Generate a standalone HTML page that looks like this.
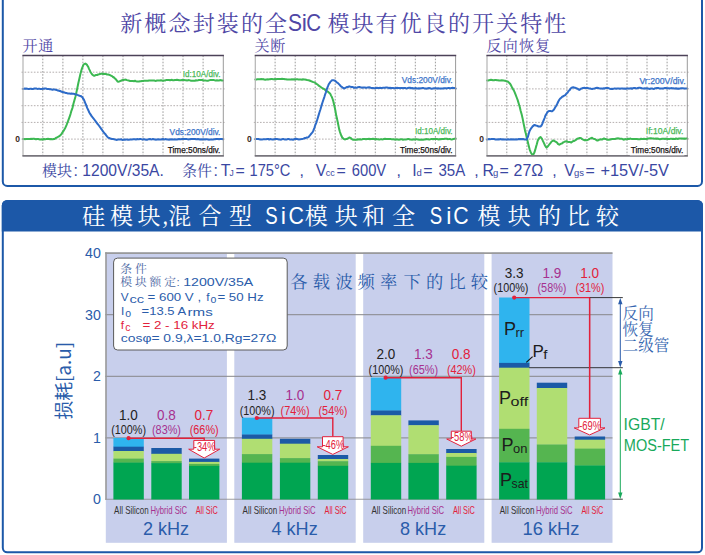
<!DOCTYPE html>
<html lang="zh-CN">
<head>
<meta charset="utf-8">
<title>SiC 模块开关特性与损耗比较</title>
<style>
html,body{margin:0;padding:0;background:#fff;}
body{width:705px;height:555px;overflow:hidden;}
svg{display:block;}
.sa{font-family:"Liberation Sans", "Noto Sans CJK SC", sans-serif;}
.cs{font-family:"Noto Serif CJK SC", "Liberation Serif", serif;}
.ch{font-family:"Noto Sans CJK SC", "Liberation Sans", sans-serif;}
text{white-space:pre;}
</style>
</head>
<body>
<svg width="705" height="555" viewBox="0 0 705 555">
<rect width="705" height="555" fill="#fff"/>
<rect x="2.8" y="-12" width="699.2" height="197.9" rx="4.5" fill="#fff" stroke="#1c58a8" stroke-width="2"/>
<text class="cs" x="120.2" y="30.8" font-size="22" letter-spacing="2.15" fill="#4f47a6">新概念封装的全</text>
<text class="sa" x="287.9" y="31.4" font-size="23.2" fill="#4f47a6" textLength="14" lengthAdjust="spacingAndGlyphs">S</text>
<text class="sa" x="301.7" y="31.4" font-size="23.2" fill="#4f47a6">i</text>
<text class="sa" x="306.2" y="31.4" font-size="23.2" fill="#4f47a6" textLength="14.8" lengthAdjust="spacingAndGlyphs">C</text>
<text class="cs" x="327.4" y="30.8" font-size="22" letter-spacing="2.1" fill="#4f47a6">模块有优良的开关特性</text>
<text class="cs" x="22.6" y="51.4" font-size="15" letter-spacing="0.7" fill="#4f47a6">开通</text>
<text class="cs" x="254.6" y="51.4" font-size="15" letter-spacing="0.7" fill="#4f47a6">关断</text>
<text class="cs" x="486.6" y="51.4" font-size="15" letter-spacing="1.2" fill="#4f47a6">反向恢复</text>
<rect x="23.0" y="55.5" width="200.3" height="100.3" fill="#fff"/>
<path d="M21.5 72.2H224.8M21.5 88.9H224.8M21.5 105.7H224.8M21.5 122.4H224.8M21.5 139.1H224.8" stroke="#b4aeae" stroke-width="1" stroke-dasharray="1.6 1.5" fill="none"/>
<path d="M42.8 55.5V155.8M62.9 55.5V155.8M82.9 55.5V155.8M102.9 55.5V155.8M123.0 55.5V155.8M143.0 55.5V155.8M163.0 55.5V155.8M183.0 55.5V155.8M203.1 55.5V155.8" stroke="#8e8e8e" stroke-width="0.9" stroke-dasharray="1.6 1.5" fill="none"/>
<polyline points="23.0,139.1 24.0,138.9 25.0,139.2 26.0,138.9 27.0,139.1 28.0,139.1 29.0,138.9 30.0,139.1 31.0,138.8 32.0,139.0 33.0,138.8 34.0,138.8 35.0,139.0 36.0,139.3 37.0,139.0 38.0,138.9 39.0,139.2 40.0,139.5 41.0,139.4 42.0,139.2 43.0,139.5 44.0,139.0 45.0,139.4 46.0,139.1 47.0,138.9 48.0,138.8 49.0,138.9 50.0,139.3 51.0,139.0 52.0,139.2 52.9,139.2 53.7,139.0 54.6,138.9 55.6,138.2 56.5,137.6 57.5,137.2 58.5,136.7 59.6,135.9 60.6,135.0 61.6,133.8 62.5,132.4 63.5,130.9 64.5,129.2 65.5,127.4 66.5,125.2 67.5,122.5 68.5,119.8 69.5,117.2 70.5,114.1 71.5,110.6 72.5,107.8 73.5,103.6 74.5,99.9 75.5,96.4 76.4,92.4 77.4,87.7 78.4,82.7 79.4,78.4 80.4,74.0 81.2,71.0 82.0,68.3 83.4,64.9 84.4,63.9 85.4,63.6 86.8,64.6 87.5,65.7 88.3,67.0 89.0,68.9 89.8,70.4 90.5,72.0 91.3,73.2 92.0,74.2 92.8,75.0 93.5,75.5 94.3,75.8 95.2,75.3 96.1,75.1 97.0,75.1 98.1,74.5 99.1,74.3 100.2,73.9 101.1,73.8 102.1,73.6 103.0,74.0 104.1,73.8 105.1,73.9 106.2,74.0 107.1,74.6 108.1,74.4 109.0,74.7 110.0,75.1 111.1,75.7 112.1,76.1 113.0,77.0 114.0,77.5 115.0,78.6 116.1,79.6 117.5,81.4 118.2,81.8 119.0,81.6 120.0,81.1 121.0,80.7 122.0,80.3 123.0,80.0 124.0,79.9 125.0,79.6 126.0,79.7 127.0,80.1 128.0,80.4 129.0,80.6 130.0,81.0 131.0,81.1 132.0,81.0 133.0,81.1 134.0,81.2 135.0,80.8 136.0,81.2 137.0,81.4 138.0,81.5 139.0,81.5 140.0,81.3 141.0,81.2 142.0,80.9 143.0,81.1 144.0,80.8 145.0,80.7 146.0,80.7 147.0,80.7 148.0,80.8 149.0,80.6 150.0,80.5 151.0,80.5 152.0,80.5 153.0,80.6 154.0,80.4 155.0,80.8 156.0,80.9 157.0,80.5 158.0,80.4 159.0,80.4 160.0,80.4 161.0,80.2 162.0,80.6 163.0,80.8 164.0,80.6 165.0,80.5 166.0,80.1 167.0,80.0 168.0,80.0 169.0,80.0 170.0,80.3 171.0,80.0 172.0,79.8 173.0,80.3 174.0,80.2 175.0,79.9 176.0,80.0 177.0,79.7 178.0,79.9 179.0,80.3 180.0,80.3 181.0,80.3 182.0,80.0 183.0,80.0 184.0,79.9 185.0,80.2 186.0,80.2 187.0,80.4 188.0,80.2 189.0,80.1 190.0,80.4 191.0,80.7 192.0,80.7 193.0,80.7 194.0,80.7 195.0,80.7 196.0,80.3 197.0,80.4 198.0,80.3 199.0,80.0 200.0,79.9 201.0,80.0 202.0,80.0 203.0,80.3 204.0,80.6 205.0,80.4 206.0,80.6 207.0,80.7 208.0,80.7 209.0,80.4 210.0,80.1 211.0,80.0 212.0,79.9 213.0,79.9 214.0,80.1 215.0,80.4 216.0,80.5 217.0,80.3 218.0,80.4 219.0,80.5 220.0,80.1 221.0,80.2 222.0,80.5 223.0,80.5" fill="none" stroke="#3cb852" stroke-width="2" stroke-linejoin="round" stroke-linecap="round"/>
<polyline points="23.0,88.9 24.0,88.8 25.0,88.5 26.0,88.8 27.0,88.6 28.0,88.9 29.0,89.1 30.0,88.8 31.0,88.7 32.0,89.0 33.0,89.0 34.0,88.6 35.0,88.4 36.0,88.4 37.0,88.8 38.0,88.9 39.0,88.6 40.0,88.9 41.0,89.1 41.9,89.0 42.9,88.8 43.9,88.8 44.8,88.5 45.8,88.4 46.8,88.9 47.7,88.9 48.7,88.9 49.7,89.2 50.7,89.2 51.7,89.5 52.6,89.7 53.6,89.4 54.6,89.4 55.6,89.7 56.5,89.9 57.5,90.4 58.5,90.6 59.5,91.0 60.5,91.1 61.6,91.8 62.6,92.0 63.6,92.2 64.5,92.5 65.5,92.9 66.5,93.0 67.5,93.4 68.5,93.4 69.5,93.5 70.5,93.7 71.5,93.5 72.5,93.8 73.5,93.8 74.5,93.9 75.5,94.5 76.5,94.5 77.4,94.9 78.4,95.3 79.5,95.7 80.6,95.9 81.5,96.6 82.4,97.2 83.2,98.7 83.9,99.6 84.7,101.6 85.4,103.3 86.3,105.5 87.3,108.1 88.3,110.2 89.3,112.5 90.5,114.4 91.8,116.4 93.0,117.8 94.3,119.5 95.3,120.8 96.2,122.1 97.2,123.5 98.2,124.7 99.2,126.0 100.2,127.3 101.2,128.9 102.2,130.2 103.2,131.7 104.2,133.0 105.2,133.9 106.2,135.3 107.2,136.6 108.2,137.7 109.2,137.9 110.1,138.3 111.0,138.8 112.0,139.0 113.0,139.1 114.1,139.2 115.1,139.5 116.1,139.7 117.0,139.9 118.0,139.5 119.0,139.6 120.0,139.6 121.0,139.3 122.0,139.7 123.0,139.9 124.0,139.5 125.0,139.8 126.0,139.5 127.0,139.5 128.0,139.8 129.0,139.8 130.0,139.4 131.0,139.4 132.0,139.4 133.0,139.3 134.0,139.2 135.0,139.2 136.0,139.5 137.0,139.1 138.0,139.3 139.0,139.3 140.0,139.1 141.0,139.1 142.0,139.4 143.0,139.4 144.0,139.1 145.0,139.6 146.0,139.7 147.0,139.8 148.0,139.3 149.0,139.2 150.0,139.0 151.0,139.4 152.0,139.3 153.0,139.1 154.0,139.2 155.0,139.6 156.0,139.7 157.0,139.4 158.0,139.2 159.0,139.6 160.0,139.5 161.0,139.6 162.0,139.2 163.0,139.0 164.0,139.4 165.0,139.3 166.0,139.1 167.0,139.5 168.0,139.6 169.0,139.7 170.0,139.3 171.0,139.6 172.0,139.2 173.0,139.5 174.0,139.4 175.0,139.3 176.0,139.4 177.0,139.6 178.0,139.3 179.0,139.1 180.0,139.3 181.0,139.2 182.0,139.0 183.0,139.0 184.0,138.9 185.0,139.0 186.0,139.0 187.0,139.1 188.0,139.4 189.0,139.2 190.0,139.3 191.0,139.1 192.0,139.1 193.0,138.9 194.0,139.0 195.0,138.9 196.0,139.3 197.0,139.3 198.0,139.1 199.0,139.2 200.0,139.5 201.0,139.2 202.0,139.4 203.0,139.3 204.0,139.3 205.0,139.5 206.0,139.3 207.0,139.3 208.0,139.4 209.0,139.7 210.0,139.4 211.0,139.5 212.0,139.5 213.0,139.5 214.0,139.3 215.0,139.2 216.0,139.0 217.0,138.9 218.0,138.9 219.0,139.3 220.0,139.1 221.0,139.0 222.0,138.9 223.0,139.3" fill="none" stroke="#2d6bc8" stroke-width="2" stroke-linejoin="round" stroke-linecap="round"/>
<path d="M23.0 55.5V155.8" stroke="#b4b4b4" stroke-width="1.2"/>
<path d="M223.3 55.5V155.8" stroke="#9a9a9a" stroke-width="1"/>
<path d="M22.4 55.5H223.9" stroke="#4c4258" stroke-width="1.3"/>
<path d="M22.4 155.8H223.9" stroke="#77757c" stroke-width="1.8"/>
<rect x="181.8" y="69.8" width="39.6" height="8.4" fill="#fff"/>
<text class="sa" x="182.8" y="76.6" font-size="8.3" fill="#4cb85a" stroke="#4cb85a" stroke-width="0.25" textLength="37.6" lengthAdjust="spacingAndGlyphs">Id:10A/div.</text>
<rect x="168.6" y="127.7" width="52.8" height="8.4" fill="#fff"/>
<text class="sa" x="169.6" y="134.5" font-size="8.3" fill="#3f76c9" stroke="#3f76c9" stroke-width="0.25" textLength="50.8" lengthAdjust="spacingAndGlyphs">Vds:200V/div.</text>
<rect x="166.8" y="145.4" width="54.6" height="9.6" fill="#fff"/>
<text class="sa" x="167.8" y="153.0" font-size="8.3" fill="#1b1515" stroke="#1b1515" stroke-width="0.25" textLength="52.6" lengthAdjust="spacingAndGlyphs">Time:50ns/div.</text>
<text class="sa" x="17.5" y="142.3" font-size="8.5" text-anchor="middle" fill="#3a2a22" font-weight="bold">0</text>
<rect x="255.3" y="55.5" width="200.3" height="100.3" fill="#fff"/>
<path d="M253.8 72.2H457.1M253.8 88.9H457.1M253.8 105.7H457.1M253.8 122.4H457.1M253.8 139.1H457.1" stroke="#b4aeae" stroke-width="1" stroke-dasharray="1.6 1.5" fill="none"/>
<path d="M275.1 55.5V155.8M295.2 55.5V155.8M315.2 55.5V155.8M335.2 55.5V155.8M355.3 55.5V155.8M375.3 55.5V155.8M395.3 55.5V155.8M415.3 55.5V155.8M435.4 55.5V155.8" stroke="#8e8e8e" stroke-width="0.9" stroke-dasharray="1.6 1.5" fill="none"/>
<polyline points="255.3,79.6 256.3,79.6 257.3,79.3 258.3,79.2 259.3,79.2 260.2,79.3 261.2,79.1 262.2,79.2 263.2,79.1 264.2,79.6 265.2,79.8 266.2,79.6 267.2,79.3 268.1,79.6 269.1,79.3 270.1,79.2 271.1,79.0 272.1,79.1 273.1,79.2 274.1,79.3 275.1,79.1 276.0,79.2 277.0,79.0 278.0,79.0 279.0,78.9 280.0,79.1 281.0,78.9 282.0,78.8 283.0,79.0 284.0,79.0 285.0,79.2 286.0,79.3 287.0,79.5 288.0,79.5 289.0,79.5 290.0,79.6 291.0,79.4 292.0,79.2 293.0,79.6 294.0,79.2 295.0,79.4 296.0,79.4 297.0,79.1 298.0,79.4 299.0,79.6 300.0,79.5 301.0,79.6 302.0,79.7 303.0,79.3 304.0,79.4 305.0,79.5 306.0,79.7 307.2,80.0 308.5,80.2 309.5,80.5 310.5,81.0 311.5,81.3 312.5,81.8 313.4,82.1 314.4,82.4 315.4,83.0 316.4,83.8 317.4,84.3 318.4,85.4 319.4,86.1 320.4,86.8 321.4,87.5 322.4,88.2 323.4,88.8 324.4,89.1 325.3,90.1 326.3,90.9 327.4,91.4 328.5,92.1 329.4,93.1 330.3,93.8 331.1,95.6 331.8,96.9 332.6,99.0 333.3,101.3 334.1,104.8 334.8,107.8 335.6,111.8 336.3,115.8 337.1,119.1 337.8,122.5 339.2,129.4 339.9,131.8 340.7,134.2 341.4,135.8 342.2,137.5 343.5,138.8 344.8,139.4 346.2,139.1 346.9,139.0 347.7,138.4 348.4,138.2 349.2,137.6 349.9,137.6 350.7,137.9 351.5,138.7 352.4,139.4 353.2,139.8 354.1,139.8 355.1,139.8 356.0,139.7 357.0,139.7 358.0,139.3 359.0,139.6 360.0,139.2 361.0,139.5 362.0,139.5 363.0,138.9 364.0,138.9 365.0,139.1 366.0,139.3 367.0,139.1 368.0,138.9 369.0,138.8 370.0,139.2 371.0,138.9 372.0,139.0 373.0,138.8 374.0,139.0 375.0,139.4 376.0,139.0 377.0,139.3 378.0,139.2 379.0,139.4 380.0,139.4 381.0,139.1 382.0,139.4 383.0,139.3 384.0,139.0 385.0,138.8 386.0,139.0 387.0,139.1 388.0,139.1 389.0,139.0 390.0,139.1 391.0,139.1 392.0,139.4 393.0,139.1 394.0,139.4 395.0,139.6 396.0,139.2 397.0,139.6 398.0,139.6 399.0,139.8 400.0,139.4 401.0,139.3 402.0,139.3 403.0,139.7 404.0,139.6 405.0,139.4 406.0,139.4 407.0,139.3 408.0,139.1 409.0,139.1 410.0,139.5 411.0,139.4 412.0,139.7 413.0,139.4 414.0,139.3 415.0,139.4 416.0,139.2 417.0,139.2 418.0,139.6 419.0,139.7 420.0,139.7 421.0,139.6 422.0,139.7 423.0,139.8 424.0,139.5 425.0,139.5 426.0,139.1 427.0,139.3 428.0,139.2 429.0,139.4 430.0,139.4 431.0,139.1 432.0,138.9 433.0,139.3 433.9,139.0 434.9,139.1 435.9,139.0 436.9,139.0 437.9,139.2 438.9,139.5 439.8,139.1 440.8,139.2 441.8,139.0 442.8,139.1 443.8,139.0 444.8,138.8 445.8,138.8 446.7,138.7 447.7,139.2 448.7,139.1 449.7,138.9 450.7,139.2 451.7,139.4 452.6,139.2 453.6,138.9 454.6,138.7 455.6,138.6" fill="none" stroke="#3cb852" stroke-width="2" stroke-linejoin="round" stroke-linecap="round"/>
<polyline points="255.3,139.2 256.3,139.0 257.3,139.0 258.3,139.0 259.3,139.2 260.3,139.5 261.2,139.6 262.2,139.4 263.2,139.3 264.2,139.3 265.2,139.2 266.2,139.2 267.2,139.0 268.2,139.0 269.2,139.5 270.2,139.1 271.2,139.2 272.2,139.4 273.1,139.6 274.1,139.2 275.1,139.1 276.1,139.1 277.1,139.1 278.1,139.2 279.1,139.5 280.1,139.6 281.1,139.7 282.1,139.2 283.1,138.9 284.1,139.3 285.0,139.5 286.0,139.4 287.0,139.4 288.0,139.0 289.0,139.1 290.0,139.5 291.0,139.6 292.0,139.6 293.0,139.7 294.0,139.3 295.0,139.0 296.0,138.8 297.0,139.0 298.0,139.2 299.0,139.4 299.9,139.3 300.8,139.2 301.6,139.1 302.5,138.9 303.5,138.6 304.5,138.1 305.5,138.2 306.5,137.6 307.5,137.5 308.5,137.1 309.5,135.9 310.5,134.7 311.5,133.4 312.5,132.3 313.4,130.3 314.4,127.8 315.4,124.8 316.4,122.3 317.4,119.2 318.4,115.9 319.4,112.5 320.4,109.5 321.4,105.9 322.4,102.7 323.4,99.7 324.4,96.8 325.1,94.5 325.9,92.3 327.3,87.8 328.1,85.9 328.8,84.1 329.6,83.2 330.3,81.9 331.1,81.1 331.8,80.3 332.6,80.3 333.3,80.2 334.1,80.4 334.8,80.4 335.6,81.2 336.3,82.0 337.2,82.6 338.2,83.3 339.2,84.4 340.2,85.5 341.2,86.6 342.2,87.2 343.2,88.0 344.2,88.5 345.4,87.8 346.7,87.1 347.9,87.0 349.2,86.3 350.4,86.8 351.6,86.9 352.9,87.1 354.1,87.8 355.1,87.5 356.0,87.7 357.0,87.5 358.0,87.2 359.0,87.1 360.0,87.1 361.0,87.4 362.0,87.8 363.0,87.4 364.0,87.5 365.0,87.5 366.0,87.9 367.0,87.6 368.0,87.4 369.0,87.3 370.0,87.5 371.0,87.9 372.0,88.1 373.0,88.1 374.0,88.3 375.0,88.3 376.0,88.0 377.0,87.7 378.0,88.1 379.0,88.1 380.0,87.7 381.0,87.9 382.0,87.9 383.0,87.8 384.0,87.8 385.0,87.7 386.0,87.5 387.0,87.6 388.0,87.7 389.0,88.2 390.0,87.8 391.0,88.2 392.0,87.9 393.0,87.9 394.0,88.2 395.0,88.3 396.0,88.1 397.0,87.8 398.0,87.9 399.0,87.9 400.0,88.3 401.0,88.0 402.0,88.0 403.0,88.3 404.0,87.9 405.0,88.0 406.0,88.3 407.0,88.4 408.0,88.0 409.0,87.8 410.0,87.7 411.0,88.3 412.0,88.1 413.0,88.3 414.0,88.5 415.0,88.3 416.0,88.1 417.0,88.5 418.0,88.5 419.0,88.2 420.0,88.4 421.0,88.2 422.0,88.1 423.0,87.9 424.0,88.3 425.0,88.6 426.0,88.5 427.0,88.7 428.0,88.2 429.0,88.1 430.0,88.2 431.0,88.5 432.0,88.7 433.0,88.4 434.0,88.2 435.0,88.2 436.0,88.3 437.0,88.6 438.0,88.2 439.0,88.5 440.0,88.5 441.0,88.6 441.9,88.6 442.9,88.5 443.9,88.3 444.9,88.2 445.9,88.2 446.8,88.4 447.8,88.1 448.8,88.0 449.8,88.3 450.7,88.2 451.7,88.0 452.7,87.8 453.7,88.1 454.6,88.1 455.6,88.5" fill="none" stroke="#2d6bc8" stroke-width="2" stroke-linejoin="round" stroke-linecap="round"/>
<path d="M255.3 55.5V155.8" stroke="#b4b4b4" stroke-width="1.2"/>
<path d="M455.6 55.5V155.8" stroke="#9a9a9a" stroke-width="1"/>
<path d="M254.7 55.5H456.2" stroke="#4c4258" stroke-width="1.3"/>
<path d="M254.7 155.8H456.2" stroke="#77757c" stroke-width="1.8"/>
<rect x="400.8" y="76.1" width="52.8" height="8.4" fill="#fff"/>
<text class="sa" x="401.8" y="82.9" font-size="8.3" fill="#3f76c9" stroke="#3f76c9" stroke-width="0.25" textLength="50.8" lengthAdjust="spacingAndGlyphs">Vds:200V/div.</text>
<rect x="414.0" y="126.8" width="39.6" height="8.4" fill="#fff"/>
<text class="sa" x="415.0" y="133.6" font-size="8.3" fill="#4cb85a" stroke="#4cb85a" stroke-width="0.25" textLength="37.6" lengthAdjust="spacingAndGlyphs">Id:10A/div.</text>
<rect x="399.0" y="145.0" width="54.6" height="9.6" fill="#fff"/>
<text class="sa" x="400.0" y="152.6" font-size="8.3" fill="#1b1515" stroke="#1b1515" stroke-width="0.25" textLength="52.6" lengthAdjust="spacingAndGlyphs">Time:50ns/div.</text>
<text class="sa" x="249.3" y="142.3" font-size="8.5" text-anchor="middle" fill="#3a2a22" font-weight="bold">0</text>
<rect x="487.0" y="55.5" width="200.3" height="100.3" fill="#fff"/>
<path d="M485.5 72.2H688.8M485.5 88.9H688.8M485.5 105.7H688.8M485.5 122.4H688.8M485.5 139.1H688.8" stroke="#b4aeae" stroke-width="1" stroke-dasharray="1.6 1.5" fill="none"/>
<path d="M506.8 55.5V155.8M526.9 55.5V155.8M546.9 55.5V155.8M566.9 55.5V155.8M586.9 55.5V155.8M607.0 55.5V155.8M627.0 55.5V155.8M647.0 55.5V155.8M667.1 55.5V155.8" stroke="#8e8e8e" stroke-width="0.9" stroke-dasharray="1.6 1.5" fill="none"/>
<polyline points="487.0,80.4 488.0,80.6 489.0,80.2 490.0,80.0 491.0,79.8 492.0,80.0 493.0,80.3 494.0,80.2 495.0,80.0 496.0,80.1 497.0,80.2 498.0,80.3 499.0,80.5 499.9,80.6 500.9,80.6 501.8,80.2 502.8,80.6 503.7,80.5 504.6,80.7 505.5,80.8 506.6,81.4 507.8,81.6 508.8,82.5 509.8,83.4 510.8,84.9 511.7,86.8 512.7,88.6 513.7,90.2 514.7,92.4 515.7,94.9 516.7,97.5 517.7,100.1 518.7,103.5 519.7,106.7 520.7,110.9 521.7,114.5 522.7,118.9 523.6,123.6 524.4,127.2 525.1,130.9 525.9,133.8 526.6,137.1 527.4,140.1 528.1,143.2 528.9,146.5 529.6,149.3 530.4,151.4 531.1,153.0 531.9,154.1 532.6,154.9 533.6,154.1 534.5,152.3 535.2,149.9 536.0,146.9 536.8,144.2 537.5,141.4 538.2,139.7 539.0,138.2 539.8,137.5 540.5,137.0 541.2,137.8 542.0,138.9 542.8,140.7 543.5,142.1 544.2,143.7 545.0,145.5 545.8,146.8 546.5,147.6 547.2,147.0 548.0,146.3 549.4,144.3 550.4,143.2 551.4,141.7 552.4,141.0 553.4,140.5 554.2,140.9 555.0,141.3 556.4,142.1 557.1,142.7 557.9,143.8 559.3,144.7 560.3,144.1 561.3,143.6 562.3,143.3 563.3,142.3 564.3,141.9 565.3,141.4 566.3,141.3 567.3,141.5 568.3,142.1 569.3,142.1 570.3,142.1 571.3,142.6 572.2,141.8 573.2,141.1 574.2,141.0 575.2,140.3 576.2,139.7 577.2,138.8 578.2,138.6 579.2,138.0 580.2,138.1 581.2,138.3 582.2,139.1 583.2,139.7 584.2,140.2 585.1,140.1 586.1,140.3 587.1,140.2 588.4,139.6 589.6,138.8 590.9,138.2 592.1,137.8 593.3,138.7 594.5,138.9 595.8,139.6 597.0,140.5 598.0,140.4 599.0,139.8 600.0,139.3 601.0,139.5 602.0,139.5 603.0,139.0 604.0,138.4 605.0,139.0 606.0,139.1 607.0,139.6 608.0,139.8 609.0,139.8 610.0,139.3 611.0,139.4 612.0,139.0 613.0,138.9 614.0,139.1 615.0,139.1 616.0,138.6 617.0,138.4 618.0,138.3 619.0,138.6 620.0,138.7 621.0,138.7 622.0,138.8 623.0,139.3 624.0,139.7 625.0,139.1 626.0,139.2 627.0,139.2 628.0,138.8 629.0,139.0 630.0,138.6 631.0,138.8 632.0,138.9 633.0,139.0 634.0,138.9 635.0,138.9 636.0,139.1 637.0,139.0 638.0,139.2 639.0,139.2 640.0,139.2 641.0,138.8 642.0,139.0 643.0,139.0 644.0,138.8 645.0,139.0 646.0,139.1 647.0,138.9 648.0,138.5 649.0,138.6 650.0,138.3 651.0,138.3 652.0,138.5 653.0,138.4 654.0,138.6 655.0,138.7 656.0,138.5 657.0,138.8 658.0,138.6 659.0,139.0 660.0,139.2 661.0,139.1 662.0,138.7 663.0,138.8 664.0,138.7 665.0,139.0 666.0,138.6 667.0,138.9 668.0,139.1 669.0,139.0 670.0,138.9 671.0,138.6 672.0,138.9 673.0,138.7 674.0,138.9 675.0,139.0 676.0,138.5 677.0,138.7 678.0,138.9 679.0,138.4 680.0,138.4 681.0,138.6 682.1,138.4 683.1,138.8 684.2,138.5 685.2,138.8 686.3,138.5 687.3,138.6" fill="none" stroke="#3cb852" stroke-width="2" stroke-linejoin="round" stroke-linecap="round"/>
<polyline points="487.0,139.6 488.0,139.2 489.0,139.1 490.0,139.2 491.0,139.1 492.0,138.9 493.0,138.9 494.0,138.9 495.0,139.4 496.0,139.5 497.0,139.6 498.0,139.2 499.0,139.5 500.0,139.1 501.0,139.2 502.0,139.4 503.0,139.2 504.0,139.5 505.0,139.4 506.0,139.4 507.0,139.6 508.0,139.2 509.0,139.6 510.0,139.5 511.0,139.3 512.0,139.5 513.0,139.2 514.0,139.6 515.0,139.4 516.0,139.2 517.0,139.4 518.0,139.3 519.0,139.0 520.0,139.3 521.0,139.0 522.0,139.3 522.9,139.1 523.8,139.3 524.8,139.6 525.7,139.5 526.6,139.5 528.0,136.5 528.8,133.6 529.6,130.9 530.4,129.5 531.1,128.4 531.9,127.4 532.6,126.4 533.6,125.6 534.5,124.9 535.2,125.1 536.0,125.6 536.8,125.7 537.5,125.9 538.2,126.4 539.0,126.5 539.8,126.6 540.5,126.5 541.5,125.5 542.5,123.4 543.2,121.3 544.0,119.5 544.8,117.5 545.5,115.3 546.2,114.4 547.0,112.9 548.4,111.2 549.4,110.9 550.4,110.9 551.4,111.2 552.4,111.2 553.2,110.3 554.0,109.5 555.4,107.1 556.4,105.4 557.4,103.5 558.3,101.5 559.3,99.7 560.0,98.7 560.8,98.1 561.5,97.5 562.3,96.6 563.0,96.5 563.8,95.8 564.5,95.5 565.3,95.1 566.0,94.2 566.8,93.2 567.5,92.7 568.3,91.4 569.0,90.6 569.8,89.9 570.5,88.8 571.3,87.9 572.3,87.5 573.2,87.3 574.0,87.5 574.7,87.8 575.5,87.8 576.2,88.1 577.0,88.5 577.7,88.7 578.5,89.5 579.2,89.9 580.2,89.4 581.2,88.5 582.2,88.3 583.2,87.9 584.2,87.8 585.1,88.0 586.1,88.0 587.1,87.9 588.1,88.1 589.1,88.4 590.1,88.5 591.1,88.8 592.1,88.9 593.0,88.7 594.0,88.6 595.0,88.4 596.0,87.9 597.0,87.7 598.0,87.9 599.0,88.3 600.0,88.4 601.0,88.4 602.0,88.5 603.0,88.7 604.0,88.2 605.0,88.4 606.0,87.9 607.0,88.0 608.0,88.0 609.0,88.4 610.0,88.8 611.0,88.9 612.0,88.7 613.0,88.9 614.0,88.6 615.0,88.4 616.0,88.7 617.0,88.6 618.0,88.6 619.0,88.5 620.0,88.7 621.0,88.5 622.0,88.6 623.0,88.6 624.0,88.8 625.0,88.6 626.0,88.7 627.0,88.6 628.0,88.5 629.0,88.4 630.0,88.6 631.0,88.3 632.0,88.7 633.0,88.3 634.0,88.1 635.0,88.0 636.0,88.4 637.0,88.3 638.0,88.0 639.0,87.8 640.0,87.7 641.0,88.1 642.0,88.3 643.0,88.4 644.0,88.5 645.0,88.2 646.0,88.4 647.0,88.3 648.0,88.6 649.0,88.7 650.0,88.9 651.0,88.4 652.0,88.6 653.0,88.8 654.0,88.9 655.0,88.3 656.0,88.2 657.0,88.0 658.0,87.9 659.0,88.3 660.0,88.5 661.0,88.5 662.0,88.6 663.0,88.6 664.0,88.3 665.0,88.1 666.0,88.0 667.0,88.4 668.0,88.3 669.0,88.3 670.0,88.4 671.0,88.1 672.0,88.2 673.0,88.2 674.0,88.5 675.0,88.4 676.0,88.3 677.0,88.7 678.0,88.5 679.0,88.7 680.0,88.6 681.0,88.2 682.1,88.3 683.1,88.3 684.2,88.6 685.2,88.4 686.3,88.6 687.3,88.6" fill="none" stroke="#2d6bc8" stroke-width="2" stroke-linejoin="round" stroke-linecap="round"/>
<path d="M487.0 55.5V155.8" stroke="#b4b4b4" stroke-width="1.2"/>
<path d="M687.3 55.5V155.8" stroke="#9a9a9a" stroke-width="1"/>
<path d="M486.4 55.5H687.9" stroke="#4c4258" stroke-width="1.3"/>
<path d="M486.4 155.8H687.9" stroke="#77757c" stroke-width="1.8"/>
<rect x="638.4" y="76.7" width="48.2" height="8.4" fill="#fff"/>
<text class="sa" x="639.4" y="83.5" font-size="8.3" fill="#3f76c9" stroke="#3f76c9" stroke-width="0.25" textLength="46.2" lengthAdjust="spacingAndGlyphs">Vr:200V/div.</text>
<rect x="644.8" y="127.6" width="39.6" height="8.4" fill="#fff"/>
<text class="sa" x="645.8" y="134.4" font-size="8.3" fill="#4cb85a" stroke="#4cb85a" stroke-width="0.25" textLength="37.6" lengthAdjust="spacingAndGlyphs">If:10A/div.</text>
<rect x="629.8" y="145.8" width="54.6" height="9.6" fill="#fff"/>
<text class="sa" x="630.8" y="153.4" font-size="8.3" fill="#1b1515" stroke="#1b1515" stroke-width="0.25" textLength="52.6" lengthAdjust="spacingAndGlyphs">Time:50ns/div.</text>
<text class="sa" x="481.5" y="142.3" font-size="8.5" text-anchor="middle" fill="#3a2a22" font-weight="bold">0</text>
<text class="cs" x="42.0" y="176.0" font-size="15.0" fill="#3a47a2">模块</text>
<text class="sa" x="73.6" y="175.9" font-size="15.9" fill="#3a47a2">:</text>
<text class="sa" x="82.3" y="175.9" font-size="15.9" fill="#3a47a2" textLength="81.5" lengthAdjust="spacingAndGlyphs">1200V/35A.</text>
<text class="cs" x="182.0" y="176.0" font-size="15.0" fill="#3a47a2">条件</text>
<text class="sa" x="213.6" y="175.9" font-size="15.9" fill="#3a47a2">:</text>
<text class="sa" x="220.8" y="175.9" font-size="15.9" fill="#3a47a2">T</text>
<text class="sa" x="229.6" y="175.9" font-size="8.5" fill="#3a47a2">J</text>
<text class="sa" x="235.6" y="175.9" font-size="15.9" fill="#3a47a2">=</text>
<text class="sa" x="249.6" y="175.9" font-size="15.9" fill="#3a47a2" textLength="40.8" lengthAdjust="spacingAndGlyphs">175°C</text>
<text class="sa" x="299.6" y="175.9" font-size="15.9" fill="#3a47a2">,</text>
<text class="sa" x="315.8" y="175.9" font-size="15.9" fill="#3a47a2">V</text>
<text class="sa" x="325.8" y="175.9" font-size="9.0" fill="#3a47a2">cc</text>
<text class="sa" x="336.4" y="175.9" font-size="15.9" fill="#3a47a2">=</text>
<text class="sa" x="351.8" y="175.9" font-size="15.9" fill="#3a47a2" textLength="34.4" lengthAdjust="spacingAndGlyphs">600V</text>
<text class="sa" x="396.4" y="175.9" font-size="15.9" fill="#3a47a2">,</text>
<text class="sa" x="412.2" y="175.9" font-size="15.9" fill="#3a47a2">I</text>
<text class="sa" x="416.6" y="175.9" font-size="9.5" fill="#3a47a2">d</text>
<text class="sa" x="423.2" y="175.9" font-size="15.9" fill="#3a47a2">=</text>
<text class="sa" x="438.4" y="175.9" font-size="15.9" fill="#3a47a2" textLength="26.8" lengthAdjust="spacingAndGlyphs">35A</text>
<text class="sa" x="474.2" y="175.9" font-size="15.9" fill="#3a47a2">,</text>
<text class="sa" x="482.4" y="175.9" font-size="15.9" fill="#3a47a2">R</text>
<text class="sa" x="493.0" y="175.9" font-size="9.5" fill="#3a47a2">g</text>
<text class="sa" x="499.4" y="175.9" font-size="15.9" fill="#3a47a2">=</text>
<text class="sa" x="513.6" y="175.9" font-size="15.9" fill="#3a47a2" textLength="29.6" lengthAdjust="spacingAndGlyphs">27Ω</text>
<text class="sa" x="552.2" y="175.9" font-size="15.9" fill="#3a47a2">,</text>
<text class="sa" x="564.2" y="175.9" font-size="15.9" fill="#3a47a2">V</text>
<text class="sa" x="574.0" y="175.9" font-size="9.5" fill="#3a47a2">gs</text>
<text class="sa" x="585.4" y="175.9" font-size="15.9" fill="#3a47a2">=</text>
<text class="sa" x="600.4" y="175.9" font-size="15.9" fill="#3a47a2" textLength="68.6" lengthAdjust="spacingAndGlyphs">+15V/-5V</text>
<rect x="2.8" y="201" width="699.2" height="351.3" rx="4.5" fill="#fff" stroke="#1c58a8" stroke-width="2"/>
<path d="M1.8 231.4V205.5a5.5 5.5 0 0 1 5.5-5.5H697.5a5.5 5.5 0 0 1 5.5 5.5V231.4z" fill="#1c58a8"/>
<text class="cs" x="81.9" y="224.4" font-size="23" fill="#fff">硅</text>
<text class="cs" x="110.1" y="224.4" font-size="23" fill="#fff">模</text>
<text class="cs" x="137.4" y="224.4" font-size="23" fill="#fff">块</text>
<text class="cs" x="161.6" y="224.4" font-size="23" fill="#fff">,</text>
<text class="cs" x="168.2" y="224.4" font-size="23" fill="#fff">混</text>
<text class="cs" x="198.6" y="224.4" font-size="23" fill="#fff">合</text>
<text class="cs" x="229.0" y="224.4" font-size="23" fill="#fff">型</text>
<text class="sa" x="265.3" y="224.2" font-size="23.2" fill="#fff" textLength="12.4" lengthAdjust="spacingAndGlyphs">S</text>
<text class="sa" x="280.7" y="224.2" font-size="23.2" fill="#fff" textLength="5.2" lengthAdjust="spacingAndGlyphs">i</text>
<text class="sa" x="288.6" y="224.2" font-size="23.2" fill="#fff" textLength="15.4" lengthAdjust="spacingAndGlyphs">C</text>
<text class="cs" x="304.8" y="224.4" font-size="23" fill="#fff">模</text>
<text class="cs" x="334.7" y="224.4" font-size="23" fill="#fff">块</text>
<text class="cs" x="361.9" y="224.4" font-size="23" fill="#fff">和</text>
<text class="cs" x="392.0" y="224.4" font-size="23" fill="#fff">全</text>
<text class="sa" x="429.7" y="224.2" font-size="23.2" fill="#fff" textLength="12.4" lengthAdjust="spacingAndGlyphs">S</text>
<text class="sa" x="446.3" y="224.2" font-size="23.2" fill="#fff" textLength="5.2" lengthAdjust="spacingAndGlyphs">i</text>
<text class="sa" x="453.3" y="224.2" font-size="23.2" fill="#fff" textLength="15.4" lengthAdjust="spacingAndGlyphs">C</text>
<text class="cs" x="477.6" y="224.4" font-size="23" fill="#fff">模</text>
<text class="cs" x="507.8" y="224.4" font-size="23" fill="#fff">块</text>
<text class="cs" x="538.0" y="224.4" font-size="23" fill="#fff">的</text>
<text class="cs" x="566.7" y="224.4" font-size="23" fill="#fff">比</text>
<text class="cs" x="595.9" y="224.4" font-size="23" fill="#fff">较</text>
<rect x="105.8" y="252.5" width="121.1" height="290.3" fill="#c8cfec"/>
<rect x="234.3" y="252.5" width="121.4" height="290.3" fill="#c8cfec"/>
<rect x="363.2" y="252.5" width="121.1" height="290.3" fill="#c8cfec"/>
<rect x="491.6" y="252.5" width="120.9" height="290.3" fill="#c8cfec"/>
<path d="M105.2 499.2H612.5" stroke="#8c8c90" stroke-width="1.1" opacity="0.85"/>
<path d="M105.2 437.9H612.5" stroke="#8c8c90" stroke-width="1.1" opacity="0.85"/>
<path d="M105.2 376.4H612.5" stroke="#8c8c90" stroke-width="1.1" opacity="0.85"/>
<path d="M105.2 314.6H612.5" stroke="#8c8c90" stroke-width="1.1" opacity="0.85"/>
<path d="M105.2 253.1H612.5" stroke="#9a9a9a" stroke-width="1.7"/>
<path d="M106 252.3V499.8" stroke="#9a9a9a" stroke-width="1.6"/>
<rect x="113.4" y="437.9" width="30.4" height="9.1" fill="#2fb4ee"/>
<rect x="113.4" y="446.7" width="30.4" height="4.6" fill="#1b5aa6"/>
<rect x="113.4" y="451.0" width="30.4" height="7.9" fill="#b0de72"/>
<rect x="113.4" y="458.6" width="30.4" height="4.3" fill="#55b550"/>
<rect x="113.4" y="462.6" width="30.4" height="36.9" fill="#00a551"/>
<rect x="151.3" y="448.0" width="30.4" height="6.1" fill="#1b5aa6"/>
<rect x="151.3" y="453.8" width="30.4" height="7.6" fill="#b0de72"/>
<rect x="151.3" y="461.1" width="30.4" height="2.3" fill="#55b550"/>
<rect x="151.3" y="463.1" width="30.4" height="36.4" fill="#00a551"/>
<rect x="189.0" y="458.6" width="30.4" height="3.6" fill="#1b5aa6"/>
<rect x="189.0" y="461.9" width="30.4" height="2.3" fill="#b0de72"/>
<rect x="189.0" y="463.9" width="30.4" height="2.3" fill="#55b550"/>
<rect x="189.0" y="465.9" width="30.4" height="33.6" fill="#00a551"/>
<rect x="241.9" y="417.7" width="30.4" height="17.1" fill="#2fb4ee"/>
<rect x="241.9" y="434.5" width="30.4" height="4.6" fill="#1b5aa6"/>
<rect x="241.9" y="438.8" width="30.4" height="15.6" fill="#b0de72"/>
<rect x="241.9" y="454.1" width="30.4" height="8.9" fill="#55b550"/>
<rect x="241.9" y="462.7" width="30.4" height="36.8" fill="#00a551"/>
<rect x="279.9" y="438.8" width="30.4" height="5.2" fill="#1b5aa6"/>
<rect x="279.9" y="443.7" width="30.4" height="14.7" fill="#b0de72"/>
<rect x="279.9" y="458.1" width="30.4" height="4.9" fill="#55b550"/>
<rect x="279.9" y="462.7" width="30.4" height="36.8" fill="#00a551"/>
<rect x="317.8" y="455.0" width="30.4" height="4.3" fill="#1b5aa6"/>
<rect x="317.8" y="459.0" width="30.4" height="2.5" fill="#b0de72"/>
<rect x="317.8" y="461.2" width="30.4" height="4.9" fill="#55b550"/>
<rect x="317.8" y="465.8" width="30.4" height="33.7" fill="#00a551"/>
<rect x="370.8" y="377.6" width="30.4" height="33.2" fill="#2fb4ee"/>
<rect x="370.8" y="410.5" width="30.4" height="5.1" fill="#1b5aa6"/>
<rect x="370.8" y="415.3" width="30.4" height="30.8" fill="#b0de72"/>
<rect x="370.8" y="445.8" width="30.4" height="17.4" fill="#55b550"/>
<rect x="370.8" y="462.9" width="30.4" height="36.6" fill="#00a551"/>
<rect x="408.4" y="420.4" width="30.4" height="5.1" fill="#1b5aa6"/>
<rect x="408.4" y="425.2" width="30.4" height="29.3" fill="#b0de72"/>
<rect x="408.4" y="454.2" width="30.4" height="9.0" fill="#55b550"/>
<rect x="408.4" y="462.9" width="30.4" height="36.6" fill="#00a551"/>
<rect x="446.2" y="449.0" width="30.4" height="4.3" fill="#1b5aa6"/>
<rect x="446.2" y="453.0" width="30.4" height="4.2" fill="#b0de72"/>
<rect x="446.2" y="456.9" width="30.4" height="9.1" fill="#55b550"/>
<rect x="446.2" y="465.7" width="30.4" height="33.8" fill="#00a551"/>
<rect x="499.1" y="297.5" width="30.4" height="65.7" fill="#2fb4ee"/>
<rect x="499.1" y="362.9" width="30.4" height="5.1" fill="#1b5aa6"/>
<rect x="499.1" y="367.7" width="30.4" height="61.4" fill="#b0de72"/>
<rect x="499.1" y="428.8" width="30.4" height="33.8" fill="#55b550"/>
<rect x="499.1" y="462.3" width="30.4" height="37.2" fill="#00a551"/>
<rect x="536.8" y="382.7" width="30.4" height="5.6" fill="#1b5aa6"/>
<rect x="536.8" y="388.0" width="30.4" height="56.8" fill="#b0de72"/>
<rect x="536.8" y="444.5" width="30.4" height="18.1" fill="#55b550"/>
<rect x="536.8" y="462.3" width="30.4" height="37.2" fill="#00a551"/>
<rect x="574.7" y="436.5" width="30.4" height="3.5" fill="#1b5aa6"/>
<rect x="574.7" y="439.7" width="30.4" height="9.2" fill="#b0de72"/>
<rect x="574.7" y="448.6" width="30.4" height="17.2" fill="#55b550"/>
<rect x="574.7" y="465.5" width="30.4" height="34.0" fill="#00a551"/>
<text class="sa" x="92.9" y="504.1" font-size="13.8" fill="#2a5caa" textLength="7.9" lengthAdjust="spacingAndGlyphs">0</text>
<text class="sa" x="92.9" y="442.8" font-size="13.8" fill="#2a5caa" textLength="7.9" lengthAdjust="spacingAndGlyphs">1</text>
<text class="sa" x="92.9" y="381.3" font-size="13.8" fill="#2a5caa" textLength="7.9" lengthAdjust="spacingAndGlyphs">2</text>
<text class="sa" x="85.0" y="319.5" font-size="13.8" fill="#2a5caa" textLength="15.8" lengthAdjust="spacingAndGlyphs">30</text>
<text class="sa" x="85.0" y="257.6" font-size="13.8" fill="#2a5caa" textLength="15.8" lengthAdjust="spacingAndGlyphs">40</text>
<text class="ch" transform="translate(71.2 419.6) rotate(-90)" font-size="19" fill="#2a5caa" textLength="77.6" lengthAdjust="spacingAndGlyphs">损耗[a.u]</text>
<text class="cs" x="290.3" y="288.4" font-size="17.3" fill="#2a5caa">各</text>
<text class="cs" x="312.8" y="288.4" font-size="17.3" fill="#2a5caa">载</text>
<text class="cs" x="335.6" y="288.4" font-size="17.3" fill="#2a5caa">波</text>
<text class="cs" x="357.6" y="288.4" font-size="17.3" fill="#2a5caa">频</text>
<text class="cs" x="379.9" y="288.4" font-size="17.3" fill="#2a5caa">率</text>
<text class="cs" x="403.4" y="288.4" font-size="17.3" fill="#2a5caa">下</text>
<text class="cs" x="426.1" y="288.4" font-size="17.3" fill="#2a5caa">的</text>
<text class="cs" x="448.6" y="288.4" font-size="17.3" fill="#2a5caa">比</text>
<text class="cs" x="470.8" y="288.4" font-size="17.3" fill="#2a5caa">较</text>
<rect x="113.6" y="258.1" width="173.6" height="91.9" rx="4" fill="#fff" stroke="#5a5a5a" stroke-width="1"/>
<text class="cs" x="120.2" y="272.8" font-size="11.8" fill="#4a66a2" letter-spacing="2.9">条件</text>
<text class="cs" x="120.2" y="286.0" font-size="11.8" fill="#4a66a2" letter-spacing="2.9">模块额定</text>
<text class="sa" x="176.4" y="285.8" font-size="11.6" fill="#4a66a2">:</text>
<text class="sa" x="183.2" y="285.8" font-size="11.6" fill="#2a5caa" textLength="70.0" lengthAdjust="spacingAndGlyphs">1200V/35A</text>
<text class="sa" x="120.8" y="300.8" font-size="11.8" fill="#2a5caa">V</text>
<text class="sa" x="129.4" y="302.6" font-size="10.5" fill="#2a5caa" textLength="14.6" lengthAdjust="spacingAndGlyphs">cc</text>
<text class="sa" x="147.6" y="300.8" font-size="11.8" fill="#2a5caa" textLength="53.5" lengthAdjust="spacingAndGlyphs">= 600 V ,</text>
<text class="sa" x="206.2" y="300.8" font-size="11.8" fill="#2a5caa">f</text>
<text class="sa" x="210.6" y="302.6" font-size="10.5" fill="#2a5caa">o</text>
<text class="sa" x="217.4" y="300.8" font-size="11.8" fill="#2a5caa" textLength="46.2" lengthAdjust="spacingAndGlyphs">= 50 Hz</text>
<text class="sa" x="121.0" y="314.9" font-size="11.8" fill="#2a5caa">I</text>
<text class="sa" x="125.2" y="316.8" font-size="10.5" fill="#2a5caa">o</text>
<text class="sa" x="141.6" y="314.9" font-size="11.8" fill="#2a5caa" textLength="44.5" lengthAdjust="spacingAndGlyphs">=13.5 A</text>
<text class="sa" x="187.6" y="316.0" font-size="10.8" fill="#2a5caa" textLength="25.2" lengthAdjust="spacingAndGlyphs">rms</text>
<text class="sa" x="120.8" y="329.3" font-size="11.8" fill="#e2213b">f</text>
<text class="sa" x="125.2" y="331.2" font-size="10.5" fill="#e2213b">c</text>
<text class="sa" x="142.4" y="329.3" font-size="11.8" fill="#e2213b" textLength="72.4" lengthAdjust="spacingAndGlyphs">= 2 - 16 kHz</text>
<text class="sa" x="120.8" y="342.4" font-size="11.4" fill="#2a5caa" textLength="155.6" lengthAdjust="spacingAndGlyphs">cosφ= 0.9,λ=1.0,Rg=27Ω</text>
<text class="sa" x="119.0" y="419.6" font-size="15.4" fill="#222222" textLength="18.8" lengthAdjust="spacingAndGlyphs">1.0</text>
<text class="sa" x="111.2" y="433.7" font-size="12.3" fill="#222222" textLength="34.8" lengthAdjust="spacingAndGlyphs">(100%)</text>
<text class="sa" x="156.9" y="419.6" font-size="15.4" fill="#a6318f" textLength="18.8" lengthAdjust="spacingAndGlyphs">0.8</text>
<text class="sa" x="152.0" y="433.7" font-size="12.3" fill="#a6318f" textLength="29.0" lengthAdjust="spacingAndGlyphs">(83%)</text>
<text class="sa" x="194.6" y="419.6" font-size="15.4" fill="#e2213b" textLength="18.8" lengthAdjust="spacingAndGlyphs">0.7</text>
<text class="sa" x="189.7" y="433.7" font-size="12.3" fill="#e2213b" textLength="29.0" lengthAdjust="spacingAndGlyphs">(66%)</text>
<text class="sa" x="247.5" y="400.4" font-size="15.4" fill="#222222" textLength="18.8" lengthAdjust="spacingAndGlyphs">1.3</text>
<text class="sa" x="239.7" y="414.5" font-size="12.3" fill="#222222" textLength="34.8" lengthAdjust="spacingAndGlyphs">(100%)</text>
<text class="sa" x="285.5" y="400.4" font-size="15.4" fill="#a6318f" textLength="18.8" lengthAdjust="spacingAndGlyphs">1.0</text>
<text class="sa" x="280.6" y="414.5" font-size="12.3" fill="#e2213b" textLength="29.0" lengthAdjust="spacingAndGlyphs">(74%)</text>
<text class="sa" x="323.4" y="400.4" font-size="15.4" fill="#e2213b" textLength="18.8" lengthAdjust="spacingAndGlyphs">0.7</text>
<text class="sa" x="318.5" y="414.5" font-size="12.3" fill="#e2213b" textLength="29.0" lengthAdjust="spacingAndGlyphs">(54%)</text>
<text class="sa" x="376.4" y="359.4" font-size="15.4" fill="#222222" textLength="18.8" lengthAdjust="spacingAndGlyphs">2.0</text>
<text class="sa" x="368.6" y="373.5" font-size="12.3" fill="#222222" textLength="34.8" lengthAdjust="spacingAndGlyphs">(100%)</text>
<text class="sa" x="414.0" y="359.4" font-size="15.4" fill="#a6318f" textLength="18.8" lengthAdjust="spacingAndGlyphs">1.3</text>
<text class="sa" x="409.1" y="373.5" font-size="12.3" fill="#a6318f" textLength="29.0" lengthAdjust="spacingAndGlyphs">(65%)</text>
<text class="sa" x="451.8" y="359.4" font-size="15.4" fill="#e2213b" textLength="18.8" lengthAdjust="spacingAndGlyphs">0.8</text>
<text class="sa" x="446.9" y="373.5" font-size="12.3" fill="#e2213b" textLength="29.0" lengthAdjust="spacingAndGlyphs">(42%)</text>
<text class="sa" x="504.7" y="278.3" font-size="15.4" fill="#222222" textLength="18.8" lengthAdjust="spacingAndGlyphs">3.3</text>
<text class="sa" x="493.6" y="292.4" font-size="12.3" fill="#222222" textLength="34.8" lengthAdjust="spacingAndGlyphs">(100%)</text>
<text class="sa" x="542.4" y="278.3" font-size="15.4" fill="#a6318f" textLength="18.8" lengthAdjust="spacingAndGlyphs">1.9</text>
<text class="sa" x="537.5" y="292.4" font-size="12.3" fill="#a6318f" textLength="29.0" lengthAdjust="spacingAndGlyphs">(58%)</text>
<text class="sa" x="580.3" y="278.3" font-size="15.4" fill="#e2213b" textLength="18.8" lengthAdjust="spacingAndGlyphs">1.0</text>
<text class="sa" x="575.4" y="292.4" font-size="12.3" fill="#e2213b" textLength="29.0" lengthAdjust="spacingAndGlyphs">(31%)</text>
<path d="M128.6 438.2H204.2V440.4" fill="none" stroke="#e2213b" stroke-width="1.4"/>
<circle cx="128.6" cy="438.2" r="2.1" fill="#e2213b"/>
<path d="M193.8 440.4H214.6V449.2H219.7L204.2 458.0L188.7 449.2H193.8Z" fill="#fff" stroke="#e2213b" stroke-width="1"/>
<text class="sa" x="193.8" y="451.3" font-size="13" fill="#e2213b" textLength="21.8" lengthAdjust="spacingAndGlyphs">-34%</text>
<path d="M256.8 418.0H332.8V436.7" fill="none" stroke="#e2213b" stroke-width="1.4"/>
<circle cx="256.8" cy="418.0" r="2.1" fill="#e2213b"/>
<path d="M322.5 436.7H343.1V446.8H348.4L332.8 454.4L317.2 446.8H322.5Z" fill="#fff" stroke="#e2213b" stroke-width="1"/>
<text class="sa" x="322.4" y="448.9" font-size="13" fill="#e2213b" textLength="21.8" lengthAdjust="spacingAndGlyphs">-46%</text>
<path d="M385.6 377.7H461.3V431.2" fill="none" stroke="#e2213b" stroke-width="1.4"/>
<circle cx="385.6" cy="377.7" r="2.1" fill="#e2213b"/>
<path d="M451.3 431.2H471.3V439.0H475.9L461.3 446.2L446.7 439.0H451.3Z" fill="#fff" stroke="#e2213b" stroke-width="1"/>
<text class="sa" x="450.9" y="441.1" font-size="13" fill="#e2213b" textLength="21.8" lengthAdjust="spacingAndGlyphs">-58%</text>
<path d="M514.2 297.6H589.6V418.3" fill="none" stroke="#e2213b" stroke-width="1.4"/>
<circle cx="514.2" cy="297.6" r="2.1" fill="#e2213b"/>
<path d="M578.8 418.3H600.4V427.9H605.0L589.6 434.9L574.2 427.9H578.8Z" fill="#fff" stroke="#e2213b" stroke-width="1"/>
<text class="sa" x="579.2" y="430.0" font-size="13" fill="#e2213b" textLength="21.8" lengthAdjust="spacingAndGlyphs">-69%</text>
<text class="sa" x="114.1" y="514.2" font-size="10.2" fill="#333" textLength="34.6" lengthAdjust="spacingAndGlyphs">All Silicon</text>
<text class="sa" x="150.4" y="514.2" font-size="10.2" fill="#a6318f" textLength="36.6" lengthAdjust="spacingAndGlyphs">Hybrid SiC</text>
<text class="sa" x="195.7" y="514.2" font-size="10.2" fill="#e2213b" textLength="22.0" lengthAdjust="spacingAndGlyphs">All SiC</text>
<text class="sa" x="242.6" y="514.2" font-size="10.2" fill="#333" textLength="34.6" lengthAdjust="spacingAndGlyphs">All Silicon</text>
<text class="sa" x="279.0" y="514.2" font-size="10.2" fill="#a6318f" textLength="36.6" lengthAdjust="spacingAndGlyphs">Hybrid SiC</text>
<text class="sa" x="324.5" y="514.2" font-size="10.2" fill="#e2213b" textLength="22.0" lengthAdjust="spacingAndGlyphs">All SiC</text>
<text class="sa" x="371.5" y="514.2" font-size="10.2" fill="#333" textLength="34.6" lengthAdjust="spacingAndGlyphs">All Silicon</text>
<text class="sa" x="407.5" y="514.2" font-size="10.2" fill="#a6318f" textLength="36.6" lengthAdjust="spacingAndGlyphs">Hybrid SiC</text>
<text class="sa" x="452.9" y="514.2" font-size="10.2" fill="#e2213b" textLength="22.0" lengthAdjust="spacingAndGlyphs">All SiC</text>
<text class="sa" x="499.8" y="514.2" font-size="10.2" fill="#333" textLength="34.6" lengthAdjust="spacingAndGlyphs">All Silicon</text>
<text class="sa" x="535.9" y="514.2" font-size="10.2" fill="#a6318f" textLength="36.6" lengthAdjust="spacingAndGlyphs">Hybrid SiC</text>
<text class="sa" x="581.4" y="514.2" font-size="10.2" fill="#e2213b" textLength="22.0" lengthAdjust="spacingAndGlyphs">All SiC</text>
<text class="sa" x="142.9" y="535" font-size="18.6" fill="#2a5caa" textLength="46.2" lengthAdjust="spacingAndGlyphs">2 kHz</text>
<text class="sa" x="271.5" y="535" font-size="18.6" fill="#2a5caa" textLength="46.2" lengthAdjust="spacingAndGlyphs">4 kHz</text>
<text class="sa" x="400.0" y="535" font-size="18.6" fill="#2a5caa" textLength="46.2" lengthAdjust="spacingAndGlyphs">8 kHz</text>
<text class="sa" x="522.5" y="535" font-size="18.6" fill="#2a5caa" textLength="57.0" lengthAdjust="spacingAndGlyphs">16 kHz</text>
<text class="sa" x="504.0" y="335.2" font-size="18.0" fill="#1c1c1c">P</text>
<text class="sa" x="515.5" y="336.8" font-size="13.5" fill="#1c1c1c" textLength="8.6" lengthAdjust="spacingAndGlyphs">rr</text>
<text class="sa" x="499.0" y="404.0" font-size="18.0" fill="#1c1c1c">P</text>
<text class="sa" x="510.5" y="405.6" font-size="13.5" fill="#1c1c1c" textLength="17.6" lengthAdjust="spacingAndGlyphs">off</text>
<text class="sa" x="501.6" y="451.0" font-size="18.0" fill="#1c1c1c">P</text>
<text class="sa" x="513.1" y="452.6" font-size="13.5" fill="#1c1c1c" textLength="14.4" lengthAdjust="spacingAndGlyphs">on</text>
<text class="sa" x="500.0" y="486.4" font-size="18.0" fill="#1c1c1c">P</text>
<text class="sa" x="511.5" y="488.0" font-size="13.5" fill="#1c1c1c" textLength="16.4" lengthAdjust="spacingAndGlyphs">sat</text>
<text class="sa" x="532.4" y="357.4" font-size="17.0" fill="#1c1c1c">P</text>
<text class="sa" x="543.3" y="359.0" font-size="13.0" fill="#1c1c1c" textLength="4.2" lengthAdjust="spacingAndGlyphs">f</text>
<path d="M526.3 362.4L532.6 356.6" stroke="#111" stroke-width="1.2"/>
<path d="M589.6 297.6H622.8M529.2 367.7H622.8M612.5 499.2H622.8" stroke="#222" stroke-width="0.9" fill="none"/>
<path d="M589.6 297.6V418.3" stroke="#e2213b" stroke-width="1.2"/>
<path d="M620.3 300V365.4" stroke="#2a5caa" stroke-width="1"/>
<path d="M620.3 297.9l-2.2 6.4h4.4zM620.3 367.4l-2.2-6.4h4.4z" fill="#2a5caa"/>
<path d="M620.3 370.4V496.8" stroke="#19a95b" stroke-width="1"/>
<path d="M620.3 368.2l-2.2 6.4h4.4zM620.3 498.9l-2.2-6.4h4.4z" fill="#19a95b"/>
<text class="cs" x="622.6" y="318.8" font-size="15.6" fill="#3566b0">反向</text>
<text class="cs" x="622.6" y="334.8" font-size="15.6" fill="#3566b0">恢复</text>
<text class="cs" x="622.6" y="350.8" font-size="15.6" fill="#3566b0">二级管</text>
<text class="sa" x="623.6" y="430.2" font-size="15.6" fill="#19a95b" textLength="41" lengthAdjust="spacingAndGlyphs">IGBT/</text>
<text class="sa" x="623.8" y="451" font-size="15.6" fill="#19a95b" textLength="65.4" lengthAdjust="spacingAndGlyphs">MOS-FET</text>
</svg>
</body>
</html>
